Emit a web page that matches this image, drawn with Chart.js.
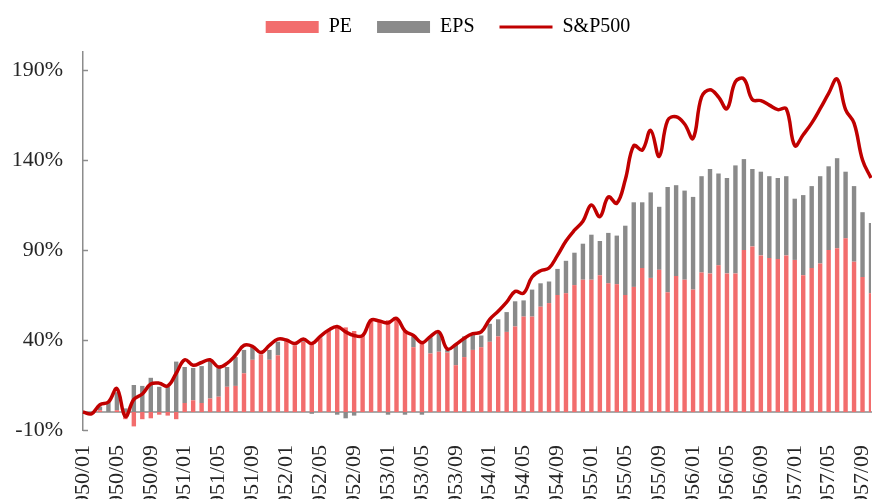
<!DOCTYPE html>
<html>
<head>
<meta charset="utf-8">
<script src="https://cdn.jsdelivr.net/npm/chart.js@4/dist/chart.umd.min.js"></script>
<style>
html,body{margin:0;padding:0;background:#fff;overflow:hidden;}
canvas{display:block;}
</style>
</head>
<body>
<canvas id="c" width="872" height="499"></canvas>
<script>
// Categories: monthly, 1950/01 .. 1957/10
const categories = [];
for (let y = 1950; y <= 1957; y++) {
  for (let m = 1; m <= 12; m++) {
    if (y === 1957 && m > 10) break;
    categories.push(y + '/' + (m < 10 ? '0' + m : '' + m));
  }
}
// Tick labels shown on the category axis
const tickLabels = ['1950/01','1950/05','1950/09','1951/01','1951/05','1951/09','1952/01','1952/05','1952/09',
  '1953/01','1953/05','1953/09','1954/01','1954/05','1954/09','1955/01','1955/05','1955/09',
  '1956/01','1956/05','1956/09','1957/01','1957/05','1957/09'];
const yTicks = [-10, 40, 90, 140, 190];

// PE contribution (%)
const peValues = [0,0,1,0,1,-4,-8,-4,-3.5,-1.5,-2,-4,5,6.5,5,7.5,
  8.5,14,14.5,21.5,29,32,29,31.5,39,37,39,38,41,44.5,47,
  47,45,43,51.5,50,51,52,45.5,36,39.5,32.5,33.5,33,26,30.5,
  34.5,36,39,42,44.5,47.5,53,53,58.5,60.5,65,66,70.5,73.5,73.5,
  76,71.5,71,65,69.5,80,74.5,79,66.5,75.5,73.5,68,77.5,77,81.5,77,
  77,90,92,87,85.5,85,87,84.5,76,80,82.5,90,91,96.5,83.5,75,66];
// EPS contribution (%)
const epsValues = [0,-1,2,5.5,10,2,15,14.5,19,14,14,28,20,18,20.5,21,
  16.5,11,16,13,7,1,5.5,7.5,1,0.5,1,-1,0.5,0.5,-1.5,
  -3.5,-2,0,0,0.5,-1.5,0,-1.5,6,-1.5,9,11,1.5,11.5,11.5,
  8.5,6.5,10,9.5,11,14,9,15,13,12,14.5,18,18,20,25,
  19,28,27,38.5,47,36.5,47.5,35,58.5,50.5,49.5,51.5,53.5,58,51,53,
  60,50.5,43,46.5,45.5,45,44,34,44.5,45.5,48.5,46.5,50,37,42,36,39];
// S&P500 cumulative change (%)
const spValues = [0,-1,4,5.5,13,-2.5,7,10,15.5,16,14.5,21.5,29,26,27.5,29,
  25,27,31.5,37,36.5,33,37,40.5,40,38,40.5,38,42,45.5,47.5,
  44.5,42.5,42.5,51,50.5,49.5,52,45,42.5,38.5,42,44.5,35,37.5,41,
  43.5,44.5,51.5,56,61,67,66,75,78.5,80,87,95,101,106,115,
  108.5,119.5,116,129,148,145.5,156.5,142,162,164,160,152,175,179,175,168.5,
  183.5,185,173.5,173,170.5,168,168.5,148,154,160.5,168.5,177,185,168,160.5,140,130];

const PE_COLOR = '#F26D6D';
const EPS_COLOR = '#8A8A8A';
const SP_COLOR = '#C00000';
const AXIS_COLOR = '#8C8C8C';
const TEXT_COLOR = '#262626';
const FONT = '"Liberation Serif", "Times New Roman", serif';

const axisDecor = {
  id: 'axisDecor',
  beforeLayout(chart) {
    const lg = chart.legend;
    if (lg && !lg._fixedH) {
      const f = lg.fit.bind(lg);
      lg.fit = function () { f(); this.height = 60; };
      lg._fixedH = true;
    }
  },
  afterLayout(chart) {
    const lg = chart.legend;
    if (lg) { lg.left = 24; lg.right = 872; }
  },
  beforeDatasetsDraw(chart) {
    const {ctx, chartArea, scales} = chart;
    const y0 = scales.y.getPixelForValue(0);
    ctx.save();
    ctx.strokeStyle = AXIS_COLOR;
    ctx.lineWidth = 1.5;
    ctx.beginPath();
    ctx.moveTo(chartArea.left, y0);
    ctx.lineTo(chartArea.right + 2, y0);
    ctx.stroke();
    ctx.restore();
  },
  afterDraw(chart) {
    const {ctx, chartArea, scales} = chart;
    ctx.save();
    ctx.strokeStyle = AXIS_COLOR;
    ctx.lineWidth = 1.5;
    yTicks.forEach(v => {
      const py = Math.round(scales.y.getPixelForValue(v)) + 0.5;
      ctx.beginPath();
      ctx.moveTo(chartArea.left, py);
      ctx.lineTo(chartArea.left + 5, py);
      ctx.stroke();
    });
    ctx.restore();
  }
};

new Chart(document.getElementById('c'), {
  data: {
    labels: categories,
    datasets: [
      { type: 'bar', label: 'PE', data: peValues, backgroundColor: PE_COLOR, stack: 'bars', order: 1,
        barPercentage: 0.52, categoryPercentage: 1 },
      { type: 'bar', label: 'EPS', data: epsValues, backgroundColor: EPS_COLOR, stack: 'bars', order: 2,
        barPercentage: 0.52, categoryPercentage: 1 },
      { type: 'line', label: 'S&P500', data: spValues, borderColor: SP_COLOR, backgroundColor: SP_COLOR,
        borderWidth: 3.5, pointRadius: 0, tension: 0.4, stack: 'sp', order: 0, fill: false }
    ]
  },
  options: {
    responsive: false,
    animation: false,
    devicePixelRatio: 1,
    layout: { padding: { left: 0, right: 1, top: -8, bottom: 0 } },
    plugins: {
      tooltip: { enabled: false },
      legend: {
        position: 'top',
        align: 'center',
        labels: {
          usePointStyle: true,
          pointStyleWidth: 53,
          boxHeight: 12,
          padding: 25,
          color: TEXT_COLOR,
          font: { family: FONT, size: 20 },
          generateLabels: () => [
            { text: 'PE', fillStyle: PE_COLOR, strokeStyle: PE_COLOR, lineWidth: 0, pointStyle: 'rect', datasetIndex: 0, hidden: false },
            { text: 'EPS', fillStyle: EPS_COLOR, strokeStyle: EPS_COLOR, lineWidth: 0, pointStyle: 'rect', datasetIndex: 1, hidden: false },
            { text: 'S&P500', fillStyle: SP_COLOR, strokeStyle: SP_COLOR, lineWidth: 3, pointStyle: 'line', datasetIndex: 2, hidden: false }
          ]
        }
      }
    },
    scales: {
      x: {
        type: 'category',
        stacked: true,
        offset: false,
        grid: { display: false, drawTicks: false },
        border: { display: false },
        afterFit: s => { s.height = 69; s.paddingLeft = 0; s.paddingRight = 0; },
        ticks: {
          autoSkip: false,
          maxRotation: 90,
          minRotation: 90,
          padding: 15,
          color: TEXT_COLOR,
          font: { family: FONT, size: 22 },
          callback: function (v, i) {
            const lab = categories[i];
            return tickLabels.includes(lab) ? lab : '';
          }
        }
      },
      y: {
        stacked: true,
        min: -10,
        max: 200,
        grid: { display: false, drawTicks: false },
        border: { display: true, color: AXIS_COLOR, width: 1.5 },
        afterFit: s => { s.width = 83; },
        afterBuildTicks: s => { s.ticks = yTicks.map(v => ({ value: v })); },
        ticks: {
          padding: 20,
          color: TEXT_COLOR,
          font: { family: FONT, size: 22 },
          callback: v => v + '%'
        }
      }
    }
  },
  plugins: [axisDecor]
});
</script>
</body>
</html>
